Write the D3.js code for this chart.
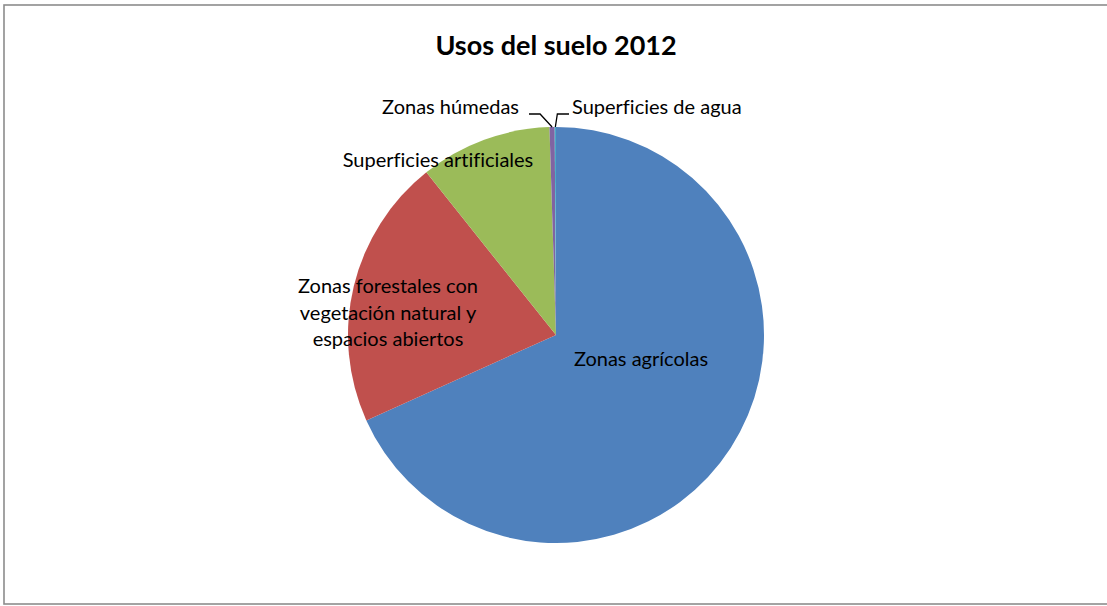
<!DOCTYPE html>
<html><head><meta charset="utf-8">
<script src="https://cdn.jsdelivr.net/npm/d3@7"></script>
<style>html,body{margin:0;padding:0;background:#fff;overflow:hidden} text{font-variant-ligatures:none;font-feature-settings:"liga" 0}</style>
</head><body>
<svg id="chart" width="1107" height="606"></svg>
<script>
const categories = ["Zonas agrícolas", "Zonas forestales con vegetación natural y espacios abiertos", "Superficies artificiales", "Zonas húmedas", "Superficies de agua"];
const values = [68.2, 21.0, 10.2, 0.4, 0.1];
const colors = ["#4F81BD", "#C0504D", "#9BBB59", "#8064A2", "#4BACC6"];
const title = "Usos del suelo 2012";

const W = 1107, H = 606;
const cx = 556, cy = 335, R = 208;
const font = "Lato, 'Open Sans', sans-serif";
const svg = d3.select("#chart");

svg.append("rect").attr("x", 4).attr("y", 5).attr("width", 1110).attr("height", 599)
  .attr("fill", "#fff").attr("stroke", "#8c8c8c").attr("stroke-width", 1.6);

svg.append("text").attr("x", 556).attr("y", 55).attr("text-anchor", "middle")
  .attr("font-family", font).attr("font-weight", "bold").attr("font-size", 27)
  .attr("fill", "#000").text(title);

const data = categories.map((c, i) => ({name: c, value: values[i], color: colors[i]}));
const pie = d3.pie().value(d => d.value).sort(null);
const arc = d3.arc().innerRadius(0).outerRadius(R);
const arcs = pie(data);

const g = svg.append("g").attr("transform", `translate(${cx},${cy})`);
g.selectAll("path").data(arcs).join("path")
  .attr("d", arc).attr("fill", d => d.data.color);

// label layout (relative to pie centre)
const labelLayout = [
  {lines: ["Zonas agrícolas"], x: 85, y: 31, anchor: "middle"},
  {lines: ["Zonas forestales con", "vegetación natural y", "espacios abiertos"], x: -168, y: -42, anchor: "middle"},
  {lines: ["Superficies artificiales"], x: -118, y: -168, anchor: "middle"},
  {lines: ["Zonas húmedas"], x: -37, y: -221, anchor: "end", leader: true, lx: -27, dir: -1},
  {lines: ["Superficies de agua"], x: 16, y: -221, anchor: "start", leader: true, lx: 13, dir: 1}
];
const lineH = 26.5;
labelLayout.forEach((L, i) => {
  const t = g.append("text").attr("text-anchor", L.anchor)
    .attr("font-family", font).attr("font-size", 20).attr("fill", "#000");
  L.lines.forEach((ln, j) => {
    t.append("tspan").attr("x", L.x).attr("y", L.y + j * lineH).text(ln);
  });
  if (L.leader) {
    const a = arcs[i];
    const mid = (a.startAngle + a.endAngle) / 2;
    const px = R * Math.sin(mid), py = -R * Math.cos(mid);
    const kx = L.dir < 0 ? px - 12 : px + 2;
    g.append("path")
      .attr("d", `M${L.lx},${-221}L${kx},${-221}L${px},${py}`)
      .attr("fill", "none").attr("stroke", "#000").attr("stroke-width", 1.3);
  }
});
</script>
</body></html>
